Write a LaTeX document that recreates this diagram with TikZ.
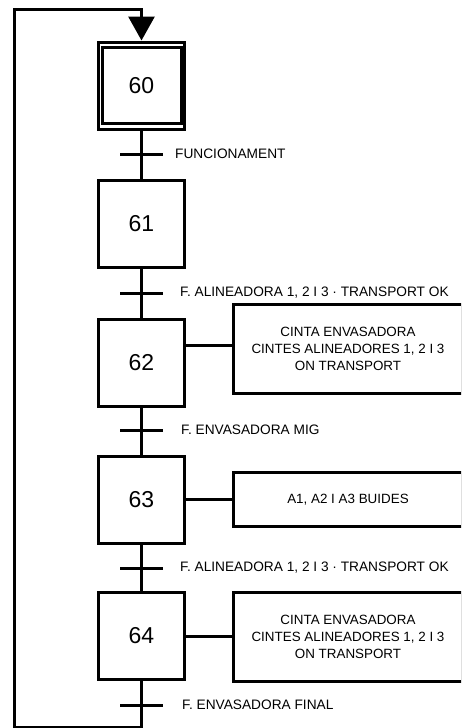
\documentclass[tikz,border=0pt]{standalone}
\usepackage{fontspec}
\setmainfont{Liberation Sans}
\usetikzlibrary{arrows.meta}
\begin{document}
\begin{tikzpicture}[x=1pt,y=-1pt,
  stepbox/.style={draw,line width=3pt,minimum width=86pt,minimum height=87pt,inner sep=0pt,font=\fontsize{23}{23}\selectfont},
  actbox/.style={draw,line width=3pt,minimum width=229pt,align=center,inner sep=0pt,font=\fontsize{13.4}{17}\selectfont},
  trans/.style={fill=black,minimum width=43pt,minimum height=3pt,inner sep=0pt,outer sep=0pt},
  lbl/.style={anchor=west,inner sep=0pt,font=\fontsize{13.7}{16}\selectfont},
  link/.style={line width=3pt}]
\useasboundingbox (0,0) rectangle (461,728);
\clip (0,0) rectangle (461,728);

% steps
\node[stepbox] (s60) at (141.5,85.5) {60};
\node[stepbox] (s61) at (141.5,224) {61};
\node[stepbox] (s62) at (141.5,362.5) {62};
\node[stepbox] (s63) at (141.5,499.5) {63};
\node[stepbox] (s64) at (141.5,636) {64};
% initial step inner border
\draw[link] ([shift={(5,7)}]s60.north west) rectangle ([shift={(-5,-7)}]s60.south east);

% transitions
\node[trans] (t1) at (141.5,154) {};
\node[trans] (t2) at (141.5,293) {};
\node[trans] (t3) at (141.5,430) {};
\node[trans] (t4) at (141.5,568) {};
\node[trans] (t5) at (141.5,705) {};

\node[lbl] (l1) at (175,154) {FUNCIONAMENT};
\node[lbl] (l2) at (180,293) {F. ALINEADORA 1, 2 I 3 · TRANSPORT OK};
\node[lbl] (l3) at (181,430) {F. ENVASADORA MIG};
\node[lbl] (l4) at (180,568) {F. ALINEADORA 1, 2 I 3 · TRANSPORT OK};
\node[lbl] (l5) at (182,705) {F. ENVASADORA FINAL};

% actions
\node[actbox,minimum height=89pt] (a62) at (348,349) {CINTA ENVASADORA\\CINTES ALINEADORES 1, 2 I 3\\ON TRANSPORT};
\node[actbox,minimum height=54pt] (a63) at (348,499.5) {A1, A2 I A3 BUIDES};
\node[actbox,minimum height=89pt] (a64) at (348,636.5) {CINTA ENVASADORA\\CINTES ALINEADORES 1, 2 I 3\\ON TRANSPORT};

\draw[link] ([yshift=4pt]a62.west) -- ([yshift=4pt]a62.west -| s62.east);
\draw[link] (a63.west) -- (a63.west -| s63.east);
\draw[link] (a64.west) -- (a64.west -| s64.east);

% links
\draw[link] (s60.south) -- (s61.north);
\draw[link] (s61.south) -- (s62.north);
\draw[link] (s62.south) -- (s63.north);
\draw[link] (s63.south) -- (s64.north);

% loop back
\coordinate (bl) at (14,727);
\coordinate (tl) at (14,9);
\draw[link,-{Triangle[width=26pt,length=24pt]}] (s64.south) -- (s64.south |- bl) -- (bl) -- (tl) -- (tl -| s60.north) -- (s60.north);
\end{tikzpicture}
\end{document}
